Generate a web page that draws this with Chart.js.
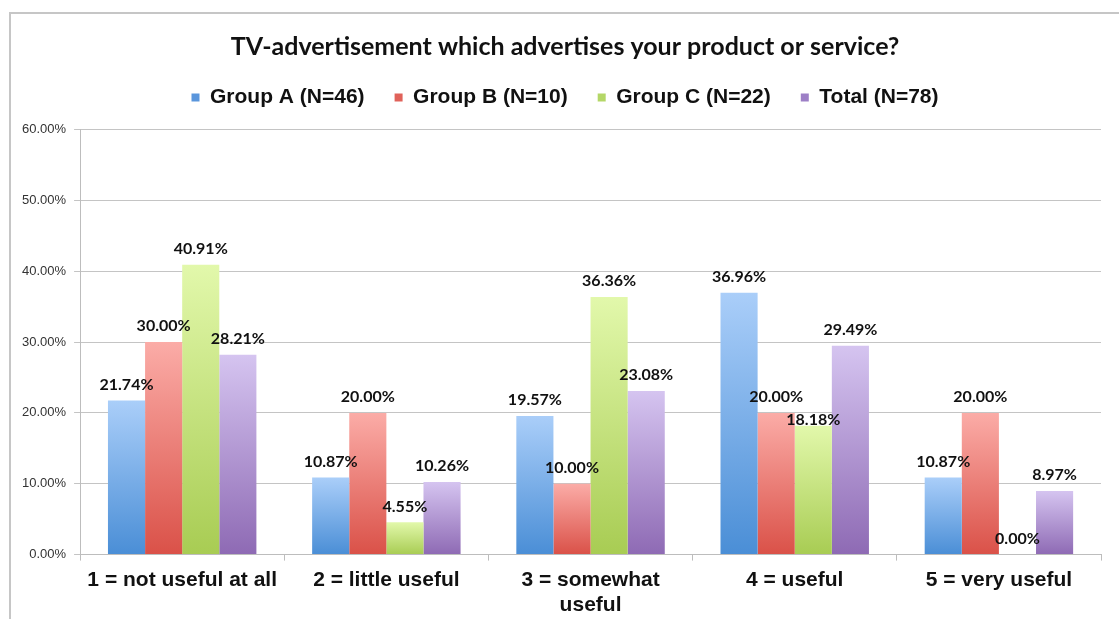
<!DOCTYPE html>
<html>
<head>
<meta charset="utf-8">
<script src="https://cdn.jsdelivr.net/npm/chart.js@4/dist/chart.umd.min.js"></script>
<style>
  html, body { margin: 0; padding: 0; background: #ffffff; }
  #wrap { position: relative; width: 1119px; height: 619px; overflow: hidden; }
  #frame { position: absolute; left: 9px; top: 12px; width: 1200px; height: 700px;
           border-left: 2px solid #c6c6c6; border-top: 2px solid #c6c6c6; }
  #c { position: absolute; left: 0; top: 0; }
</style>
</head>
<body>
<div id="wrap">
  <div id="frame"></div>
  <canvas id="c" width="1119" height="619"></canvas>
</div>
<script>
// Response categories (x axis)
const categories = [
  '1 = not useful at all',
  '2 = little useful',
  ['3 = somewhat', 'useful'],
  '4 = useful',
  '5 = very useful'
];

// Share of respondents per answer, in percent
const groupA = [21.74, 10.87, 19.57, 36.96, 10.87];
const groupB = [30.00, 20.00, 10.00, 20.00, 20.00];
const groupC = [40.91, 4.55, 36.36, 18.18, 0.00];
const total  = [28.21, 10.26, 23.08, 29.49, 8.97];

const seriesNames = ['Group A (N=46)', 'Group B (N=10)', 'Group C (N=22)', 'Total (N=78)'];

// Y axis ticks
const yTicks = [0, 10, 20, 30, 40, 50, 60];

// Gradient stops per series: [top, bottom], plus the flat legend swatch colour
const shades = [
  { top: '#aacef9', bottom: '#4a8ed6', swatch: '#5a96dc' },
  { top: '#fbaca7', bottom: '#da5148', swatch: '#e0625a' },
  { top: '#e2f8ab', bottom: '#a8cc53', swatch: '#b4d767' },
  { top: '#d5c4f0', bottom: '#8e6ab4', swatch: '#9d7fc6' }
];

function barFill(idx) {
  return (ctx) => {
    const chart = ctx.chart;
    const s = shades[idx];
    if (!chart.chartArea || ctx.type !== 'data' || !chart.scales.y) return s.bottom;
    const y = chart.scales.y;
    const topPx = y.getPixelForValue(ctx.raw);
    const basePx = y.getPixelForValue(0);
    if (basePx - topPx < 1) return s.bottom;
    const g = chart.ctx.createLinearGradient(0, topPx, 0, basePx);
    g.addColorStop(0, s.top);
    g.addColorStop(1, s.bottom);
    return g;
  };
}

// Empty layout boxes: a gap under the legend and a margin right of the plot
const spacers = {
  id: 'spacers',
  beforeInit(chart) {
    Chart.layouts.addBox(chart, {
      position: 'top',
      weight: 500,
      fullSize: true,
      options: {},
      isHorizontal() { return true; },
      update(maxWidth) { this.width = maxWidth; this.height = 11.5; },
      draw() {}
    });
    Chart.layouts.addBox(chart, {
      position: 'right',
      weight: 500,
      fullSize: false,
      options: {},
      isHorizontal() { return false; },
      update(maxWidth, maxHeight) { this.width = 15; this.height = maxHeight; },
      draw() {}
    });
  }
};

// Value labels above each bar; a label that would collide with one already
// placed in the same group is moved below it.
const valueLabels = {
  id: 'valueLabels',
  afterDatasetsDraw(chart) {
    const ctx = chart.ctx;
    ctx.save();
    ctx.font = 'bold 16px Lato, "Open Sans", sans-serif';
    ctx.fillStyle = '#111111';
    ctx.textAlign = 'center';
    ctx.textBaseline = 'middle';
    const n = chart.data.labels.length;
    const h = 16;
    for (let i = 0; i < n; i++) {
      const placed = [];
      chart.data.datasets.forEach((ds, d) => {
        const meta = chart.getDatasetMeta(d);
        const bar = meta.data[i];
        if (!bar) return;
        const text = ds.data[i].toFixed(2) + '%';
        const w = ctx.measureText(text).width;
        let y = bar.y - 16;
        for (const p of placed) {
          const overlapX = Math.abs(p.x - bar.x) < (p.w + w) / 2;
          const overlapY = Math.abs(p.y - y) < h;
          if (overlapX && overlapY) y = p.y + 23;
        }
        placed.push({ x: bar.x, y, w });
        ctx.fillText(text, bar.x, y);
      });
    }
    ctx.restore();
  }
};

const datasets = [groupA, groupB, groupC, total].map((vals, i) => ({
  label: seriesNames[i],
  data: vals,
  backgroundColor: barFill(i),
  borderWidth: 0,
  categoryPercentage: 0.727,
  barPercentage: 1.0
}));

new Chart(document.getElementById('c'), {
  type: 'bar',
  data: { labels: categories, datasets },
  plugins: [spacers, valueLabels],
  options: {
    responsive: false,
    animation: false,
    layout: { padding: { top: 0, left: 14, right: 3, bottom: -6 } },
    plugins: {
      title: {
        display: true,
        text: 'TV-advertisement which advertises your product or service?',
        color: '#111111',
        font: { family: 'Lato, "Open Sans", sans-serif', size: 25, weight: 'bold', lineHeight: 1.0 },
        padding: { top: 34, bottom: -2 }
      },
      legend: {
        position: 'top',
        labels: {
          color: '#111111',
          font: { family: '"Liberation Sans", Arial, sans-serif', size: 21, weight: 'bold' },
          boxWidth: 8,
          boxHeight: 8,
          padding: 30,
          generateLabels(chart) {
            const items = Chart.defaults.plugins.legend.labels.generateLabels(chart);
            items.forEach((it, k) => {
              it.fillStyle = shades[k].swatch;
              it.strokeStyle = shades[k].swatch;
              it.lineWidth = 0;
            });
            return items;
          }
        }
      },
      tooltip: { enabled: false }
    },
    scales: {
      x: {
        grid: { drawOnChartArea: false, drawTicks: true, tickLength: 6, color: '#bdbdbd' },
        border: { color: '#bdbdbd', width: 1 },
        ticks: {
          color: '#111111',
          font: { family: '"Liberation Sans", Arial, sans-serif', size: 21, weight: 'bold', lineHeight: 1.2 },
          padding: 7,
          maxRotation: 0,
          autoSkip: false
        }
      },
      y: {
        min: yTicks[0],
        max: yTicks[yTicks.length - 1],
        afterBuildTicks(scale) { scale.ticks = yTicks.map(v => ({ value: v })); },
        grid: { color: '#c4c4c4', tickLength: 6 },
        border: { color: '#bdbdbd', width: 1 },
        ticks: {
          color: '#333333',
          font: { family: '"Liberation Sans", Arial, sans-serif', size: 13 },
          padding: 8,
          callback: (v) => Number(v).toFixed(2) + '%'
        }
      }
    }
  }
});
</script>
</body>
</html>
